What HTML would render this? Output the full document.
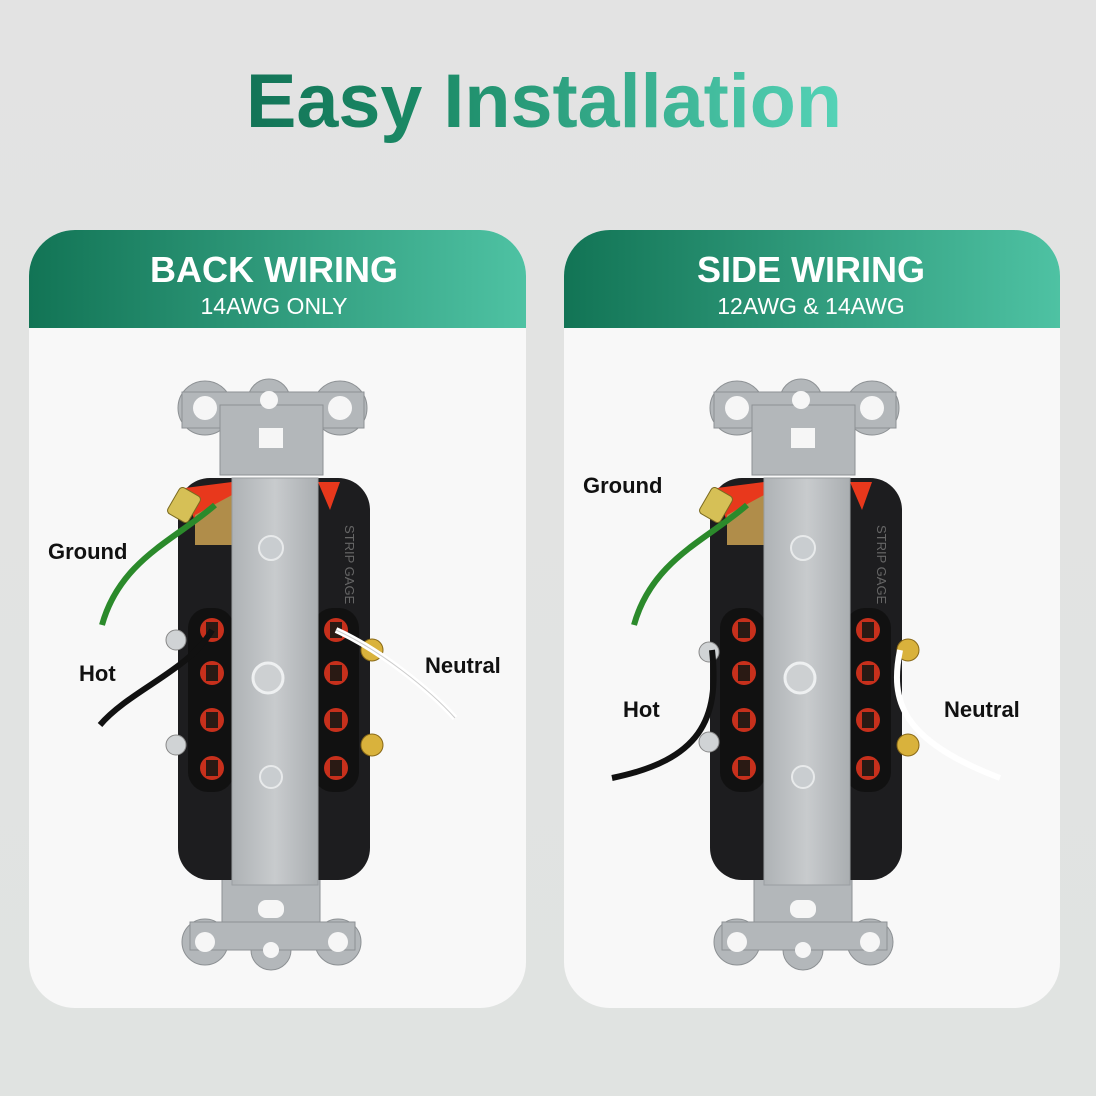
<!DOCTYPE html>
<html><head><meta charset="utf-8"><style>
html,body{margin:0;padding:0}
body{width:1096px;height:1096px;background:linear-gradient(#e3e3e3,#e0e3e1);font-family:"Liberation Sans",sans-serif;position:relative;overflow:hidden}
</style></head><body>
<svg width="1096" height="1096" viewBox="0 0 1096 1096" xmlns="http://www.w3.org/2000/svg" style="position:absolute;left:0;top:0">
<defs>
<linearGradient id="tg" x1="0" x2="1"><stop offset="0" stop-color="#137457"/><stop offset="0.3" stop-color="#1b8a66"/><stop offset="1" stop-color="#55d3b7"/></linearGradient>
<linearGradient id="hg" x1="0" x2="1"><stop offset="0" stop-color="#127455"/><stop offset="1" stop-color="#4ec2a3"/></linearGradient>
<linearGradient id="mg" x1="0" x2="1"><stop offset="0" stop-color="#aeb2b5"/><stop offset="0.5" stop-color="#c8cbcd"/><stop offset="1" stop-color="#aaaeb1"/></linearGradient>
<clipPath id="c1"><rect x="29" y="230" width="497" height="778" rx="46"/></clipPath>
<clipPath id="c2"><rect x="564" y="230" width="496" height="778" rx="46"/></clipPath>
<g id="rec">
 <g fill="#b3b7ba" stroke="#8d9194" stroke-width="1">
  <circle cx="205" cy="408" r="27"/><circle cx="269" cy="400" r="21"/><circle cx="340" cy="408" r="27"/>
  <rect x="182" y="392" width="182" height="36"/>
  <rect x="220" y="405" width="103" height="70"/>
  <rect x="222" y="872" width="98" height="70"/>
  <circle cx="205" cy="942" r="23"/><circle cx="271" cy="950" r="20"/><circle cx="338" cy="942" r="23"/>
  <rect x="190" y="922" width="165" height="28"/>
 </g>
 <g fill="#f6f6f6"><circle cx="205" cy="408" r="12"/><circle cx="269" cy="400" r="9"/><circle cx="340" cy="408" r="12"/>
 <rect x="259" y="428" width="24" height="20"/><circle cx="205" cy="942" r="10"/><circle cx="271" cy="950" r="8"/><circle cx="338" cy="942" r="10"/><rect x="258" y="900" width="26" height="18" rx="8"/></g>
 <rect x="178" y="478" width="192" height="402" rx="32" fill="#1d1d1f"/>
 <path d="M185 488 L232 482 L232 520 L200 540 Z" fill="#e8381c"/>
 <path d="M318 482 L340 482 L330 510 Z" fill="#e8381c"/>
 <path d="M195 515 L232 495 L232 545 L195 545 Z" fill="#b08d4a"/>
 <g fill="#111">
  <rect x="188" y="608" width="46" height="184" rx="20"/><rect x="313" y="608" width="46" height="184" rx="20"/>
 </g>
 <g fill="#c7301c">
  <circle cx="212" cy="630" r="12"/><circle cx="212" cy="673" r="12"/><circle cx="212" cy="720" r="12"/><circle cx="212" cy="768" r="12"/>
  <circle cx="336" cy="630" r="12"/><circle cx="336" cy="673" r="12"/><circle cx="336" cy="720" r="12"/><circle cx="336" cy="768" r="12"/>
 </g>
 <g fill="#2a1a14">
  <rect x="206" y="622" width="12" height="16"/><rect x="206" y="665" width="12" height="16"/><rect x="206" y="712" width="12" height="16"/><rect x="206" y="760" width="12" height="16"/>
  <rect x="330" y="622" width="12" height="16"/><rect x="330" y="665" width="12" height="16"/><rect x="330" y="712" width="12" height="16"/><rect x="330" y="760" width="12" height="16"/>
 </g>
 <rect x="232" y="478" width="86" height="407" fill="url(#mg)" stroke="#9a9ea1"/>
 <circle cx="271" cy="548" r="12" fill="#c9cdd0" stroke="#e8eaeb" stroke-width="2"/>
 <circle cx="268" cy="678" r="15" fill="#cdd0d2" stroke="#eef0f1" stroke-width="3"/>
 <circle cx="271" cy="777" r="11" fill="#c9cdd0" stroke="#e8eaeb" stroke-width="2"/>
 <text x="0" y="0" transform="translate(345,525) rotate(90)" font-size="13" fill="#666">STRIP GAGE</text>
</g>
</defs>
<text x="544" y="127" text-anchor="middle" font-size="76" font-weight="bold" fill="url(#tg)" textLength="596" lengthAdjust="spacingAndGlyphs">Easy Installation</text>

<g clip-path="url(#c1)">
<rect x="29" y="230" width="497" height="778" fill="#f8f8f8"/>
<rect x="29" y="230" width="497" height="98" fill="url(#hg)"/>
</g>
<g clip-path="url(#c2)">
<rect x="564" y="230" width="496" height="778" fill="#f8f8f8"/>
<rect x="564" y="230" width="496" height="98" fill="url(#hg)"/>
</g>
<g fill="#fff" text-anchor="middle">
<text x="274" y="282" font-size="36" font-weight="bold">BACK WIRING</text>
<text x="274" y="314" font-size="23">14AWG ONLY</text>
<text x="811" y="282" font-size="36" font-weight="bold">SIDE WIRING</text>
<text x="811" y="314" font-size="23">12AWG &amp; 14AWG</text>
</g>

<use href="#rec"/>
<g fill="#d9b23c" stroke="#8a6a18"><circle cx="372" cy="650" r="11"/><circle cx="372" cy="745" r="11"/></g>
<g fill="#d0d3d5" stroke="#888"><circle cx="176" cy="640" r="10"/><circle cx="176" cy="745" r="10"/></g>
<g fill="#d6c056" stroke="#7a6a20"><rect x="172" y="490" width="24" height="30" rx="4" transform="rotate(30 184 505)"/></g>
<path d="M215 505 C175 540 120 560 102 625" stroke="#2b8a2b" stroke-width="6" fill="none"/>
<path d="M212 630 C190 670 130 690 100 725" stroke="#111" stroke-width="6" fill="none"/>
<path d="M336 630 C380 650 430 690 455 718" stroke="#fff" stroke-width="6" fill="none"/>
<path d="M336 630 C380 650 430 690 455 718" stroke="#ccc" stroke-width="1" fill="none"/>

<use href="#rec" transform="translate(532,0)"/>
<g fill="#d9b23c" stroke="#8a6a18"><circle cx="908" cy="650" r="11"/><circle cx="908" cy="745" r="11"/></g>
<g fill="#d0d3d5" stroke="#888"><circle cx="709" cy="652" r="10"/><circle cx="709" cy="742" r="10"/></g>
<g fill="#d6c056" stroke="#7a6a20"><rect x="704" y="490" width="24" height="30" rx="4" transform="rotate(30 716 505)"/></g>
<path d="M747 505 C707 540 652 560 634 625" stroke="#2b8a2b" stroke-width="6" fill="none"/>
<path d="M712 650 C720 720 700 760 612 778" stroke="#111" stroke-width="6" fill="none"/>
<path d="M900 650 C890 700 900 740 1000 778" stroke="#fff" stroke-width="6" fill="none"/>

<g font-size="22" font-weight="bold" fill="#111">
<text x="48" y="559">Ground</text>
<text x="79" y="681">Hot</text>
<text x="425" y="673">Neutral</text>
<text x="583" y="493">Ground</text>
<text x="623" y="717">Hot</text>
<text x="944" y="717">Neutral</text>
</g>
</svg>
</body></html>
